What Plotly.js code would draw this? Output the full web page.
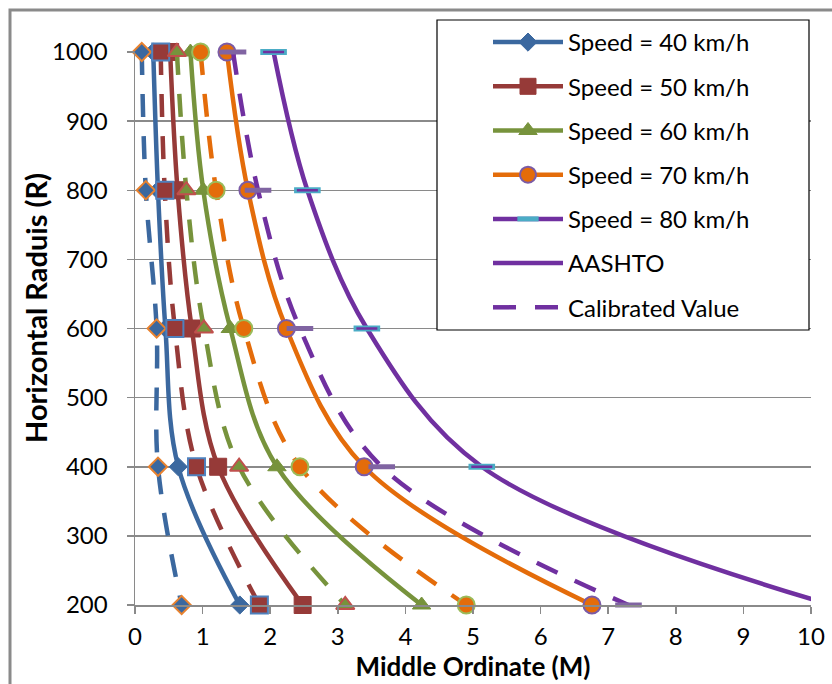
<!DOCTYPE html>
<html><head><meta charset="utf-8">
<script src="https://cdn.plot.ly/plotly-3.0.1.min.js"></script>
<style>html,body{margin:0;padding:0;background:#fff;}#chart{width:832px;height:684px;}</style>
</head><body><div id="chart"></div>
<script>
// ---- data ----
const radius = [1000, 800, 600, 400, 200];
const speedLabels = ['Speed = 40 km/h', 'Speed = 50 km/h', 'Speed = 60 km/h', 'Speed = 70 km/h', 'Speed = 80 km/h'];
const aashto40 = [0.27, 0.34, 0.45, 0.64, 1.55];
const aashto50 = [0.52, 0.63, 0.84, 1.23, 2.48];
const aashto60 = [0.82, 1.01, 1.41, 2.10, 4.24];
const aashto70 = [1.36, 1.67, 2.24, 3.39, 6.76];
const aashto80 = [2.05, 2.55, 3.43, 5.13, 10.3];
const calib40 = [0.10, 0.16, 0.32, 0.34, 0.69];
const calib50 = [0.38, 0.44, 0.59, 0.91, 1.84];
const calib60 = [0.62, 0.76, 1.02, 1.54, 3.11];
const calib70 = [0.97, 1.20, 1.61, 2.44, 4.90];
const calib80 = [1.45, 1.82, 2.44, 3.65, 7.30];
const legendExtra = ['AASHTO', 'Calibrated Value'];
const xTickVals = [0, 1, 2, 3, 4, 5, 6, 7, 8, 9, 10];
const yTickVals = [200, 300, 400, 500, 600, 700, 800, 900, 1000];
const xTitle = 'Middle Ordinate (M)';
const yTitle = 'Horizontal Raduis (R)';

// ---- styles ----
const XMAX = 10;
const FONT = 'Lato, "Open Sans", sans-serif';
const aashtoSets = [aashto40, aashto50, aashto60, aashto70, aashto80];
const calibSets = [calib40, calib50, calib60, calib70, calib80];
const lineColors = ['#3B689F', '#963A38', '#77933C', '#E46C0A', '#7030A0'];
const solidMarkers = [
  {symbol: 'diamond', size: 14, color: '#3B689F', line: {color: '#3B689F', width: 1}},
  {symbol: 'square', size: 17, color: '#963A38', line: {color: '#963A38', width: 1}},
  {symbol: 'triangle-up', size: 16, color: '#77933C', line: {color: '#77933C', width: 1}},
  {symbol: 'circle', size: 17, color: '#E46C0A', line: {color: '#7B5BA6', width: 2}},
  {symbol: 'line-ew', size: 19, color: '#4BACC6', line: {color: '#4BACC6', width: 6}}
];
const calibMarkers = [
  {symbol: 'diamond', size: 14, color: '#3B689F', line: {color: '#E8822F', width: 2}},
  {symbol: 'square', size: 17, color: '#963A38', line: {color: '#4F81BD', width: 2}},
  {symbol: 'triangle-up', size: 16, color: '#77933C', line: {color: '#C0504D', width: 2}},
  {symbol: 'circle', size: 17, color: '#E46C0A', line: {color: '#9BBB59', width: 2}},
  {symbol: 'line-ew', size: 19, color: '#8064A2', line: {color: '#8064A2', width: 5}}
];

const traces = [];
aashtoSets.forEach((xs, i) => {
  const m = JSON.parse(JSON.stringify(solidMarkers[i]));
  m.size = xs.map(v => v > XMAX ? 0 : solidMarkers[i].size);
  m.opacity = 1;
  traces.push({
    x: xs, y: radius, type: 'scatter', mode: 'lines+markers', name: speedLabels[i],
    legendgroup: 'g' + i, cliponaxis: false,
    line: {color: lineColors[i], width: 4.5, shape: 'spline', smoothing: 1},
    marker: m
  });
  if (i === 4) {
    traces.push({
      x: xs, y: radius, type: 'scatter', mode: 'markers', showlegend: false,
      legendgroup: 'g' + i, cliponaxis: false, hoverinfo: 'skip',
      marker: {symbol: 'line-ew', opacity: 1, size: xs.map(v => v > XMAX ? 0 : 15), line: {color: '#7030A0', width: 2.5}}
    });
  }
});
calibSets.forEach((xs, i) => {
  traces.push({
    x: xs, y: radius, type: 'scatter', mode: 'lines+markers', showlegend: false,
    legendgroup: 'c' + i, cliponaxis: false,
    line: {color: lineColors[i], width: 4.5, shape: 'spline', smoothing: 1, dash: '23px,19px'},
    marker: Object.assign({opacity: 1}, calibMarkers[i])
  });
});
traces.push({x: [null], y: [null], type: 'scatter', mode: 'lines', name: legendExtra[0], legendgroup: 'g5',
  line: {color: '#7030A0', width: 4.5}});
traces.push({x: [null], y: [null], type: 'scatter', mode: 'lines', name: legendExtra[1], legendgroup: 'g6',
  line: {color: '#7030A0', width: 4.5, dash: '23px,19px'}});

const L = 135, R = 21, T = 52, B = 79, W = 832, H = 684;
const pw = W - L - R, ph = H - T - B;
const px = v => (v - L) / pw;
const py = v => (H - B - v) / ph;

const layout = {
  width: W, height: H,
  margin: {l: L, r: R, t: T, b: B, pad: 0},
  paper_bgcolor: '#fff', plot_bgcolor: '#fff',
  font: {family: FONT, size: 24, color: '#000'},
  showlegend: true,
  xaxis: {
    range: [0, XMAX], tickvals: xTickVals, ticktext: xTickVals.map(String),
    showgrid: false, zeroline: false, showline: true, linecolor: '#8a8a8a', linewidth: 1.5,
    ticks: 'outside', ticklen: 7, tickwidth: 1.5, tickcolor: '#8a8a8a', ticklabelstandoff: 3,
    tickfont: {family: FONT, size: 24},
    title: {text: xTitle, font: {family: FONT, size: 26, weight: 'bold'}, standoff: 2}
  },
  yaxis: {
    range: [200, 1000], tickvals: yTickVals, ticktext: yTickVals.map(String),
    showgrid: true, gridcolor: '#8a8a8a', gridwidth: 1.5, zeroline: false,
    showline: true, linecolor: '#8a8a8a', linewidth: 1.5,
    ticks: 'outside', ticklen: 7, tickwidth: 1.5, tickcolor: '#8a8a8a', ticklabelstandoff: 14,
    tickfont: {family: FONT, size: 24}
  },
  legend: {
    x: px(488), y: py(20), xanchor: 'left', yanchor: 'top',
    bgcolor: 'rgba(0,0,0,0)', borderwidth: 0,
    font: {family: FONT, size: 24, color: '#000'},
    itemwidth: 70, traceorder: 'grouped', tracegroupgap: 10, itemclick: false
  },
  shapes: [
    {type: 'rect', xref: 'paper', yref: 'paper', x0: px(10), x1: px(850), y0: py(700), y1: py(10),
      line: {color: '#8a8a8a', width: 3}, fillcolor: 'rgba(0,0,0,0)', layer: 'below'},
    {type: 'rect', xref: 'paper', yref: 'paper', x0: px(437), x1: px(809), y0: py(330), y1: py(20),
      line: {color: '#000', width: 1.2}, fillcolor: '#fff', layer: 'above'}
  ],
  annotations: [
    {text: yTitle, xref: 'paper', yref: 'paper', x: px(35), y: py(308), xanchor: 'center', yanchor: 'middle',
      textangle: -90, showarrow: false, font: {family: FONT, size: 29, weight: 'bold', color: '#000'}}
  ]
};

Plotly.newPlot('chart', traces, layout, {staticPlot: true, displayModeBar: false});
</script>
</body></html>
